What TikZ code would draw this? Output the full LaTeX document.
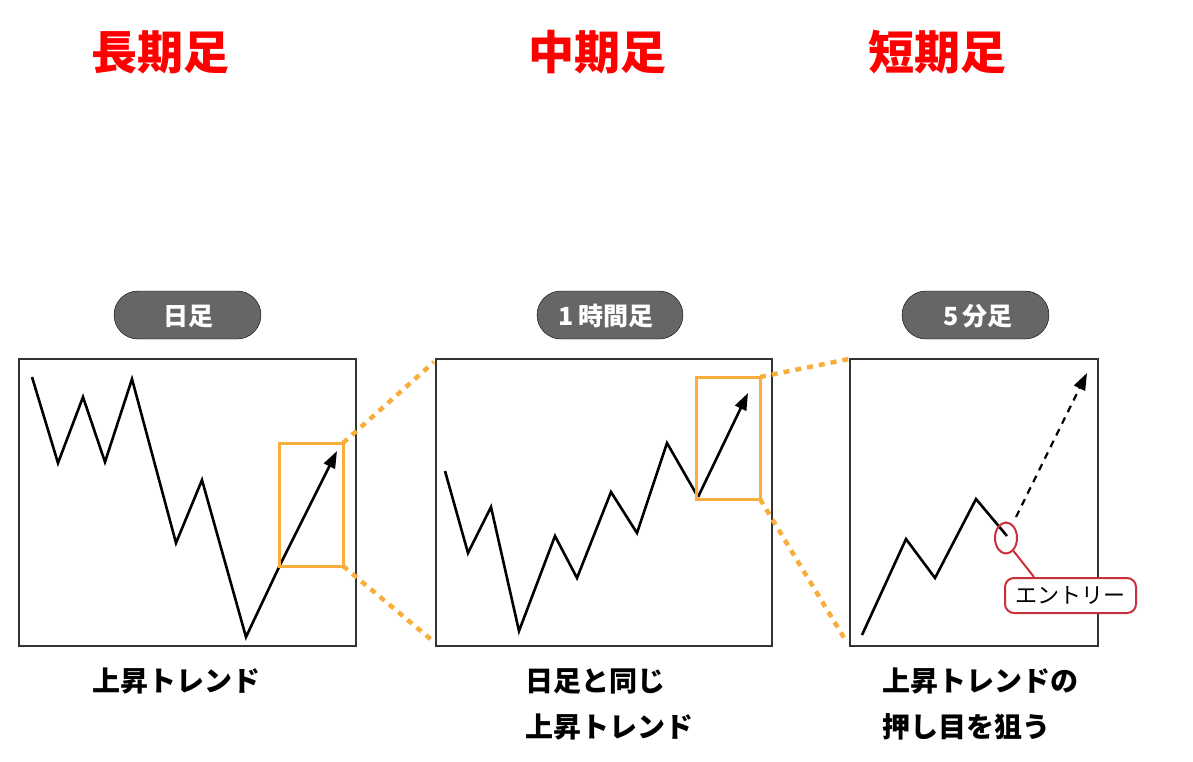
\documentclass[tikz,border=0pt]{standalone}
\usepackage{fontspec}
\setmainfont{Noto Sans CJK JP}
\usetikzlibrary{arrows.meta,shapes.geometric}
\definecolor{orng}{HTML}{F8AD3C}
\definecolor{pillgray}{HTML}{666666}
\definecolor{entryred}{HTML}{C8303C}
\definecolor{titlered}{HTML}{FF0000}
\begin{document}
\begin{tikzpicture}[x=1pt,y=-1pt,
  title/.style={text=titlered,font=\bfseries\fontsize{46}{50}\selectfont,inner sep=0pt},
  pill/.style={fill=pillgray,rounded corners=24pt,text=white,font=\bfseries\fontsize{25}{28}\selectfont,inner sep=0pt},
  panel/.style={draw=black!80,line width=1.8pt},
  zig/.style={line width=2.6pt,line join=miter,miter limit=10},
  zoombox/.style={draw=orng,line width=3pt},
  zoomline/.style={draw=orng,line width=4.5pt,dash pattern=on 6pt off 6pt},
  tip/.style={-{Triangle[length=17pt,width=12pt]}},
  caption/.style={font=\bfseries\fontsize{28}{46}\selectfont,align=left,anchor=north west,inner sep=0pt},
  ]
\useasboundingbox (0,0) rectangle (1193,761);
% titles
\node[title] (t1) at (160,52) {長期足};
\node[title] (t2) at (597,52) {中期足};
\node[title] (t3) at (937,52) {短期足};
% pills
\draw[pill] (114,291) rectangle (261,339);
\node[pill,fill=none] (p1) at (188,316) {日足};
\draw[pill] (537,291) rectangle (683,339);
\node[pill,fill=none] (p2) at (606,316) {1\,時間足};
\draw[pill] (902,291) rectangle (1049,339);
\node[pill,fill=none] (p3) at (978,316) {5\,分足};
% panel frames
\draw[panel] (19,359) rectangle (356,646);
\draw[panel] (436,359) rectangle (772,646);
\draw[panel] (850,359) rectangle (1098,646);
% panel 1 chart
\draw[zig] (32,377) -- (58,463) -- (83,397) -- (105,462) -- (132,379) -- (176,543) -- (202,480) -- (246,637) -- (280,565);
\coordinate (a1s) at (280,565);
\coordinate (a1e) at (337,451);
\draw[zig,tip] (a1s) -- (a1e);
\draw[zoombox] (279,443) rectangle (343,566);
\coordinate (z1a) at (343,443);
\coordinate (z1b) at (343,566);
\coordinate (f2a) at (434,362);
\coordinate (f2b) at (434,642);
\draw[zoomline] (z1a) -- (f2a);
\draw[zoomline] (z1b) -- (f2b);
% panel 2 chart
\draw[zig] (445,471) -- (468,553) -- (491,507) -- (519,631) -- (555,536) -- (577,578) -- (611,492) -- (637,533) -- (667,443) -- (698,497);
\coordinate (a2s) at (698,497);
\coordinate (a2e) at (748,393);
\draw[zig,tip] (a2s) -- (a2e);
\draw[zoombox] (696,377) rectangle (760,499);
\coordinate (z2a) at (760,377);
\coordinate (z2b) at (760,499);
\coordinate (f3a) at (849,359);
\coordinate (f3b) at (846,641);
\draw[zoomline] (z2a) -- (f3a);
\draw[zoomline] (z2b) -- (f3b);
% panel 3 chart
\draw[zig] (862,635) -- (906,539) -- (935,578) -- (976,499) -- (1007,536);
\coordinate (a3s) at (1016,517);
\coordinate (a3e) at (1087,373);
\draw[zig,line width=2.2pt,dash pattern=on 7pt off 6pt,tip] (a3s) -- (a3e);
\node[ellipse,draw=entryred,line width=2pt,minimum width=22pt,minimum height=31pt,inner sep=0pt] (ent) at (1006,538) {};
\node[draw=entryred,line width=2pt,fill=white,rounded corners=9pt,minimum width=131pt,minimum height=35pt,inner sep=0pt,font=\fontsize{22}{24}\selectfont] (entry) at (1070.5,595.5) {エントリー};
\draw[entryred,line width=2pt] (ent.-60) -- (entry.north west -| 1034,0);
% captions
\node[caption] (c1) at (92,668) {上昇トレンド};
\node[caption] (c2) at (525,668) {日足と同じ\\上昇トレンド};
\node[caption] (c3) at (882,668) {上昇トレンドの\\押し目を狙う};
\end{tikzpicture}
\end{document}
